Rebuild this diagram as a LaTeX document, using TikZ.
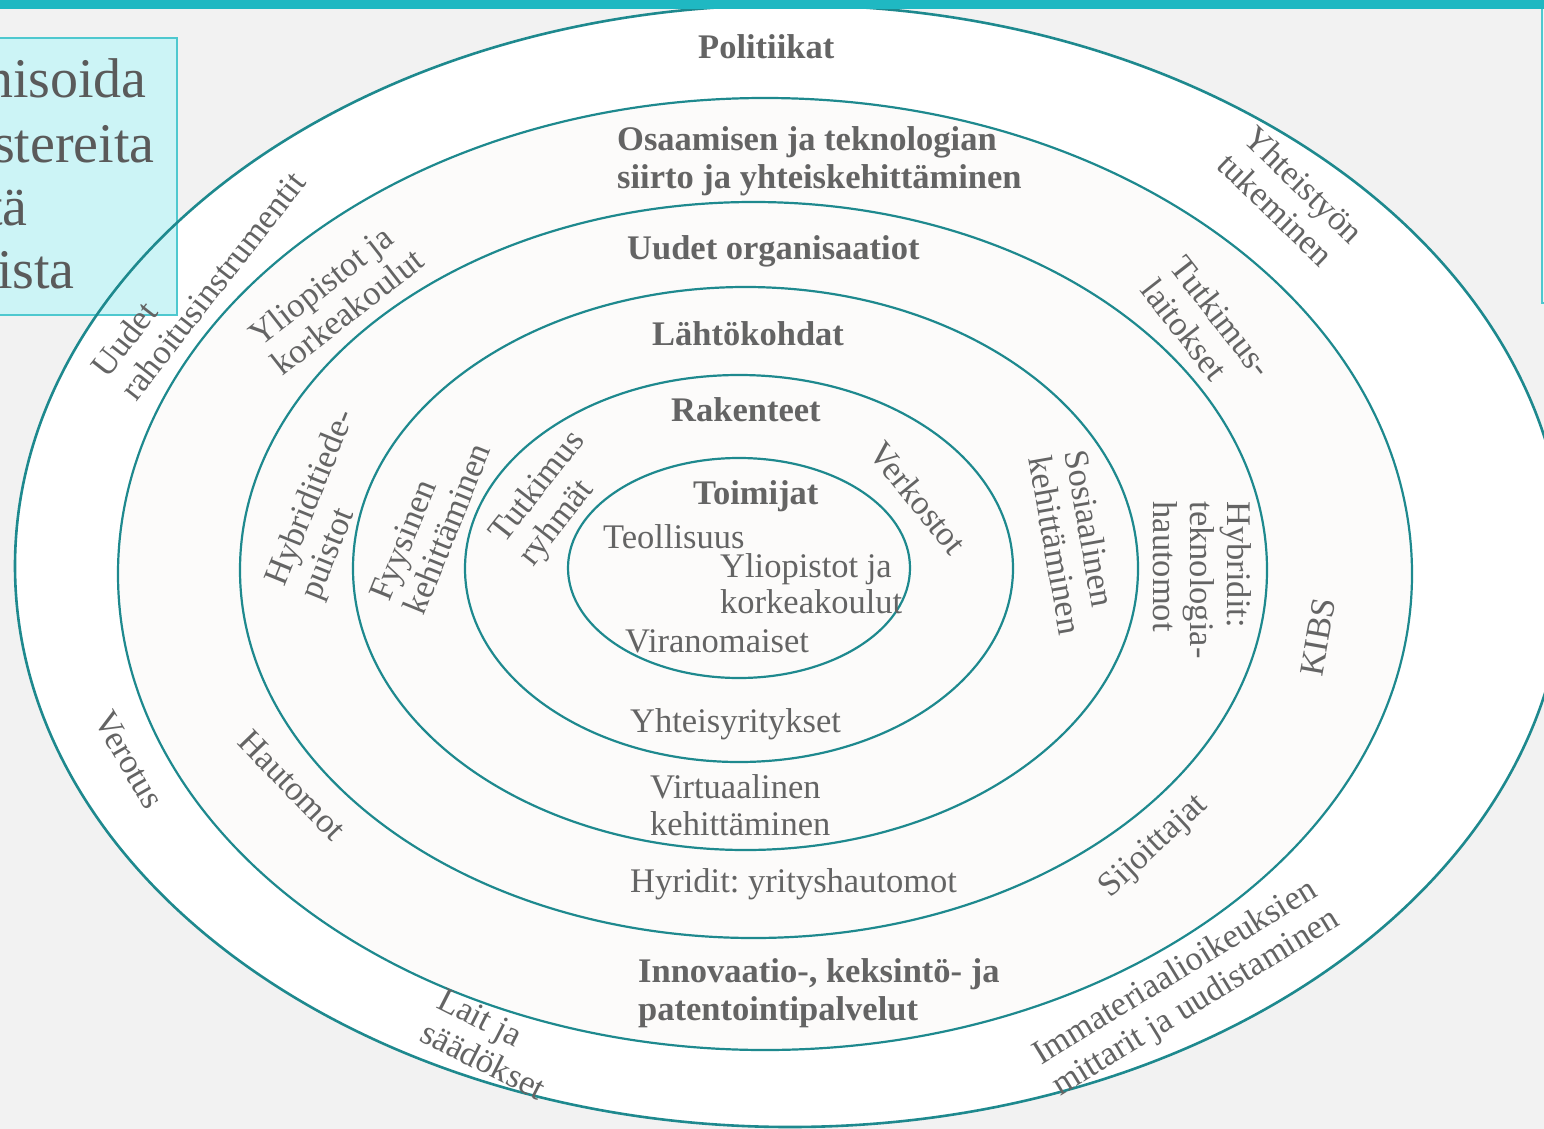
\documentclass[tikz,border=0pt]{standalone}
\usepackage{fontspec}
\setmainfont{Liberation Serif}
\frenchspacing
\definecolor{bgc}{HTML}{F2F2F2}
\definecolor{ringfill}{HTML}{FCFBFA}
\definecolor{boxc}{HTML}{CCF4F6}
\definecolor{boxb}{HTML}{4EC8CF}
\definecolor{barc}{HTML}{1FB8C2}
\definecolor{ringc}{HTML}{1E898E}
\definecolor{txtc}{HTML}{646464}
\begin{document}
\begin{tikzpicture}[x=1pt,y=-1pt,
  ring/.style={draw=ringc, line width=2.2pt},
  lbl/.style={text=txtc, inner sep=0pt, font=\fontsize{34.5}{37}\selectfont},
  blbl/.style={text=txtc, inner sep=0pt, font=\fontsize{34.5}{37}\selectfont\bfseries},
  rlbl/.style={lbl, align=left, anchor=center},
  boxtxt/.style={text=txtc!90!black, inner sep=0pt, anchor=base east, font=\fontsize{56}{63}\selectfont}]
\useasboundingbox (0,0) rectangle (1544,1129);
\clip (0,0) rectangle (1544,1129);
% background and ring fills
\fill[bgc] (0,0) rectangle (1544,1129);
\fill[white] (790,566) ellipse [x radius=775, y radius=561];
\fill[ringfill] (765,574) ellipse [x radius=647, y radius=476];
% side boxes
\filldraw[fill=boxc, draw=boxb, line width=1.5pt] (-10,38) rectangle (177,315);
\draw[boxb, line width=1.5pt] (1542,-5) rectangle (1570,303);
% ellipse outlines
\draw[ring, line width=2.6pt] (790,566) ellipse [x radius=775, y radius=561];
\draw[ring] (765,574) ellipse [x radius=647, y radius=476];
\draw[ring] (753.5,570) ellipse [x radius=513.5, y radius=368];
\draw[ring] (745.5,568.5) ellipse [x radius=392.5, y radius=281.5];
\draw[ring] (739,568.5) ellipse [x radius=274, y radius=193.5];
\draw[ring] (739,568) ellipse [x radius=171, y radius=110];
% top bar
\fill[barc] (0,0) rectangle (1544,9);
% box text
\node[boxtxt] (b1) at (147,98) {nisoida};
\node[boxtxt] (b2) at (155,162) {stereita};
\node[boxtxt] (b3) at (28,225) {tä};
\node[boxtxt] (b4) at (75,288) {ista};
% horizontal labels
\node[blbl, anchor=base west] (pol) at (698,59) {Politiikat};
\node[blbl, anchor=base west] (osa1) at (617,150) {Osaamisen ja teknologian};
\node[blbl, anchor=base west] (osa2) at (617,188) {siirto ja yhteiskehittäminen};
\node[blbl, anchor=base west] (uud) at (627,259) {Uudet organisaatiot};
\node[blbl, anchor=base west] (lah) at (652,345) {Lähtökohdat};
\node[blbl, anchor=base west] (rak) at (671,421) {Rakenteet};
\node[blbl, anchor=base west] (toi) at (693,504) {Toimijat};
\node[lbl, anchor=base west] (teo) at (603,548) {Teollisuus};
\node[lbl, anchor=base west] (yli1) at (720,577) {Yliopistot ja};
\node[lbl, anchor=base west] (yli2) at (720,613) {korkeakoulut};
\node[lbl, anchor=base west] (vir) at (625,652) {Viranomaiset};
\node[lbl, anchor=base west] (yht) at (630,732) {Yhteisyritykset};
\node[lbl, anchor=base west] (vi1) at (650,798) {Virtuaalinen};
\node[lbl, anchor=base west] (vi2) at (650,835) {kehittäminen};
\node[lbl, anchor=base west] (hyr) at (630,892) {Hyridit: yrityshautomot};
\node[blbl, anchor=base west] (inn1) at (638,982) {Innovaatio-, keksintö- ja};
\node[blbl, anchor=base west] (inn2) at (638,1020) {patentointipalvelut};
% rotated labels
\node[rlbl, rotate=52] (rah) at (198,274) {Uudet\\rahoitusinstrumentit};
\node[rlbl, rotate=38] (ylk) at (336,297) {Yliopistot ja\\korkeakoulut};
\node[rlbl, rotate=68] (hyb) at (329,505) {Hybriditiede-\\puistot};
\node[rlbl, rotate=68] (fyy) at (430,522) {Fyysinen\\kehittäminen};
\node[rlbl, rotate=52] (tut) at (553,499) {Tutkimus\\ryhmät};
\node[rlbl, rotate=-51] (ver) at (918,498) {Verkostot};
\node[rlbl, rotate=-80] (sos) at (1074,542) {Sosiaalinen\\kehittäminen};
\node[rlbl, rotate=-90] (htk) at (1202,580) {Hybridit:\\teknologia-\\hautomot};
\node[rlbl, rotate=-52] (tla) at (1207,328) {Tutkimus-\\laitokset};
\node[rlbl, rotate=-44] (yts) at (1291,198) {Yhteistyön\\tukeminen};
\node[rlbl, rotate=80] (kib) at (1318,637) {KIBS};
\node[rlbl, rotate=-60] (vero) at (129,760) {Verotus};
\node[rlbl, rotate=-46] (hau) at (292,785) {Hautomot};
\node[rlbl, rotate=-27] (lai) at (492,1044) {Lait ja\\säädökset};
\node[rlbl, rotate=43] (sij) at (1154,847) {Sijoittajat};
\node[rlbl, rotate=31.5] (imm) at (1187,988) {Immateriaalioikeuksien\\mittarit ja uudistaminen};
\end{tikzpicture}
\end{document}
